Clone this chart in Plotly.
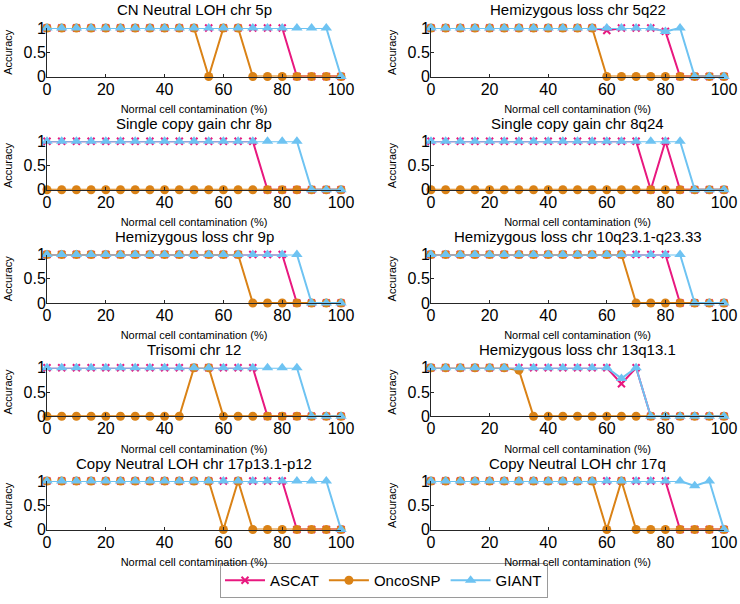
import plotly.graph_objects as go

x_contam = [0, 5, 10, 15, 20, 25, 30, 35, 40, 45, 50, 55, 60, 65, 70, 75, 80, 85, 90, 95, 100]

titles = [
    "CN Neutral LOH chr 5p", "Hemizygous loss chr 5q22",
    "Single copy gain chr 8p", "Single copy gain chr 8q24",
    "Hemizygous loss chr 9p", "Hemizygous loss chr 10q23.1-q23.33",
    "Trisomi chr 12", "Hemizygous loss chr 13q13.1",
    "Copy Neutral LOH chr 17p13.1-p12", "Copy Neutral LOH chr 17q",
]

ascat = [
    [1]*17 + [0]*4,
    [1]*12 + [0.95] + [1]*3 + [0.93] + [0]*4,
    [1]*15 + [0]*6,
    [1]*15 + [0, 1] + [0]*4,
    [1]*17 + [0]*4,
    [1]*17 + [0]*4,
    [1]*15 + [0]*6,
    [1]*13 + [0.67, 1] + [0]*6,
    [1]*17 + [0]*4,
    [1]*17 + [0]*4,
]

oncosnp = [
    [1]*11 + [0, 1, 1] + [0]*7,
    [1]*12 + [0]*9,
    [0]*21,
    [0]*21,
    [1]*14 + [0]*7,
    [1]*14 + [0]*7,
    [0]*10 + [1, 1] + [0]*9,
    [1]*6 + [0.95] + [0]*14,
    [1]*12 + [0, 1] + [0]*7,
    [1]*12 + [0, 1] + [0]*7,
]

giant = [
    [1]*20 + [0],
    [1]*16 + [0.93, 1] + [0]*3,
    [1]*18 + [0]*3,
    [1]*18 + [0]*3,
    [1]*18 + [0]*3,
    [1]*18 + [0]*3,
    [1]*18 + [0]*3,
    [1]*13 + [0.78, 1] + [0]*6,
    [1]*20 + [0],
    [1]*18 + [0.9, 1, 0],
]

series = [
    ("ASCAT", ascat, "#E8187F", "x-thin-open", 7),
    ("OncoSNP", oncosnp, "#DA8216", "circle", 9),
    ("GIANT", giant, "#6EC3F2", "triangle-up", 10),
]

W, H = 740, 604
font_family = "Arial, Liberation Sans, sans-serif"
axis_color = "#262626"

fig = go.Figure()
layout = dict(
    width=W, height=H,
    margin=dict(l=0, r=0, t=0, b=0, autoexpand=False),
    paper_bgcolor="white", plot_bgcolor="white",
    font=dict(family=font_family, color="black"),
    showlegend=True,
    legend=dict(
        orientation="h", x=384 / W, xanchor="center",
        y=(H - 598) / H, yanchor="bottom",
        bordercolor="#9a9a9a", borderwidth=1, font=dict(size=15),
        itemwidth=40, tracegroupgap=0,
    ),
)
annotations = []

col_px = [(47, 341), (431, 724)]
row_top = [28 + 113.25 * i for i in range(5)]
plot_h = 48.5

for k in range(10):
    r, c = divmod(k, 2)
    idx = k + 1
    xa = "x" if idx == 1 else f"x{idx}"
    ya = "y" if idx == 1 else f"y{idx}"
    x0, x1 = col_px[c]
    t = row_top[r]
    b = t + plot_h
    xdom = [x0 / W, x1 / W]
    ydom = [1 - b / H, 1 - t / H]
    common = dict(showline=True, linecolor=axis_color, linewidth=1, mirror=False,
                  showgrid=False, zeroline=False, ticks="inside", ticklen=3,
                  tickcolor=axis_color, tickfont=dict(size=16, family=font_family),
                  automargin=False)
    layout["xaxis" if idx == 1 else f"xaxis{idx}"] = dict(
        domain=xdom, range=[0, 100], tickvals=[0, 20, 40, 60, 80, 100],
        anchor=ya, ticklabelstandoff=-2,
        title=dict(text="Normal cell contamination (%)", font=dict(size=11), standoff=8),
        **common)
    layout["yaxis" if idx == 1 else f"yaxis{idx}"] = dict(
        domain=ydom, range=[0, 1], tickvals=[0, 0.5, 1], ticktext=["0", "0.5", "1"],
        anchor=xa, ticklabelstandoff=-3,
        title=dict(text="Accuracy", font=dict(size=11), standoff=8),
        **common)
    annotations.append(dict(
        text=titles[k], x=(x0 + x1) / 2 / W, y=1 - (t - 18) / H,
        xref="paper", yref="paper", xanchor="center", yanchor="middle",
        showarrow=False, font=dict(size=15, family=font_family)))
    for name, data, color, sym, ms in series:
        fig.add_trace(go.Scatter(
            x=x_contam, y=data[k], mode="lines+markers", name=name,
            legendgroup=name, showlegend=(k == 0), xaxis=xa, yaxis=ya,
            line=dict(color=color, width=2),
            marker=dict(symbol=sym, size=ms, color=color,
                        line=dict(color=color, width=2) if sym.startswith("x") else dict(width=0)),
            cliponaxis=False,
        ))

layout["annotations"] = annotations
fig.update_layout(**layout)
# remove the page's default 8px body margin so the figure sits at the window corner
fig.write_html("out.html", config={"displayModeBar": False},
               post_script="document.body.style.margin='0';")
